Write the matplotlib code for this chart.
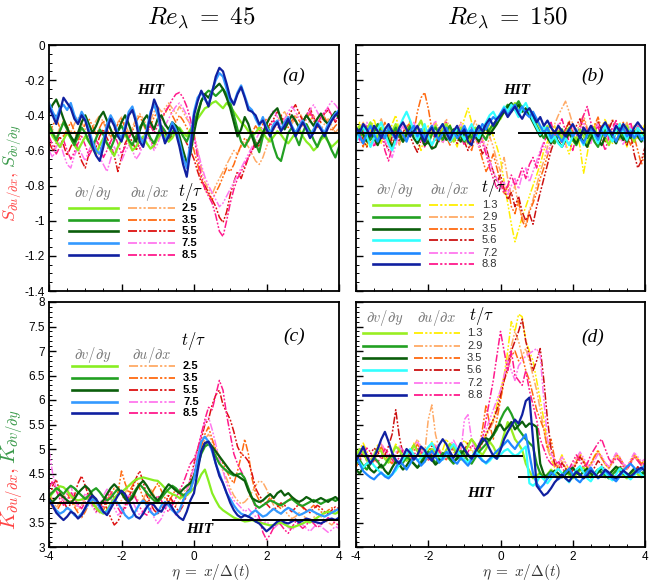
import numpy as np
import matplotlib
matplotlib.use('Agg')
import matplotlib.pyplot as plt
import matplotlib.transforms as mtransforms
from matplotlib.lines import Line2D
from matplotlib.ticker import MultipleLocator, FormatStrFormatter

plt.rcParams['mathtext.fontset'] = 'cm'
plt.rcParams['axes.unicode_minus'] = False
plt.rcParams['font.family'] = ['Liberation Sans', 'DejaVu Sans']

# ------------------------------------------------------------------ data
# all series sampled on eta = -4 .. 4 (values x100)
# panel (a): skewness, Re_lambda = 45
a_times = ['2.5', '3.5', '5.5', '7.5', '8.5']
a_v25 = [-48,-52,-55,-58,-54,-50,-53,-57,-60,-56,
 -52,-55,-59,-62,-57,-53,-56,-60,-63,-58,
 -54,-51,-55,-60,-58,-54,-52,-56,-59,-57,
 -53,-50,-52,-55,-53,-49,-47,-50,-52,-48,
 -45,-42,-39,-36,-35,-33,-32,-34,-36,-33,
 -35,-38,-41,-44,-46,-49,-52,-50,-47,-50,
 -53,-55,-52,-49,-51,-54,-56,-53,-50,-48,
 -52,-55,-57,-60,-58,-54,-52,-55,-58,-56,-54]
a_v35 = [-45,-50,-54,-49,-44,-48,-53,-57,-52,-47,
 -50,-55,-58,-53,-48,-51,-56,-59,-54,-49,
 -46,-50,-54,-57,-52,-47,-44,-48,-53,-56,
 -51,-46,-49,-53,-50,-46,-48,-52,-55,-50,
 -45,-38,-32,-28,-26,-27,-29,-27,-25,-28,
 -33,-40,-48,-55,-58,-54,-50,-56,-61,-52,
 -45,-50,-58,-64,-66,-58,-50,-47,-52,-57,
 -50,-45,-49,-54,-58,-53,-50,-55,-60,-64,-58]
a_v55 = [-38,-34,-31,-36,-42,-47,-52,-55,-50,-44,
 -40,-45,-50,-46,-41,-38,-43,-48,-53,-49,
 -44,-40,-45,-51,-55,-49,-43,-40,-44,-48,
 -42,-40,-45,-48,-44,-46,-52,-60,-67,-62,
 -50,-40,-32,-28,-30,-26,-24,-22,-25,-30,
 -36,-44,-52,-48,-41,-45,-52,-58,-55,-50,
 -45,-41,-38,-36,-42,-48,-44,-40,-43,-47,
 -44,-40,-43,-46,-42,-39,-43,-45,-41,-38,-42]
a_v75 = [-33,-38,-42,-36,-34,-37,-33,-40,-44,-38,
 -42,-48,-55,-60,-62,-55,-45,-40,-44,-50,
 -53,-46,-38,-35,-42,-52,-56,-48,-38,-34,
 -40,-50,-55,-50,-44,-48,-55,-64,-70,-55,
 -38,-30,-27,-31,-34,-26,-20,-16,-18,-25,
 -32,-33,-27,-23,-29,-35,-37,-42,-46,-41,
 -47,-50,-45,-43,-48,-44,-41,-46,-50,-46,
 -43,-47,-51,-48,-44,-47,-50,-45,-42,-39,-37]
a_v85 = [-35,-40,-45,-38,-30,-33,-36,-42,-45,-40,
 -43,-50,-58,-63,-66,-58,-48,-42,-46,-52,
 -55,-48,-40,-37,-44,-55,-58,-50,-40,-31,
 -36,-48,-56,-52,-46,-50,-58,-68,-75,-60,
 -40,-32,-26,-30,-35,-27,-18,-13,-15,-22,
 -30,-34,-28,-24,-30,-37,-38,-40,-45,-43,
 -48,-52,-47,-44,-49,-46,-42,-47,-52,-48,
 -44,-48,-53,-50,-45,-48,-52,-47,-43,-40,-38]
a_u25 = [-45,-48,-52,-47,-43,-46,-50,-45,-41,-44,
 -48,-52,-47,-43,-40,-44,-49,-53,-48,-44,
 -41,-45,-50,-47,-42,-39,-42,-46,-43,-38,
 -35,-38,-36,-33,-36,-39,-35,-38,-42,-45,
 -50,-60,-70,-78,-82,-85,-80,-76,-72,-68,
 -64,-60,-62,-58,-55,-58,-62,-66,-68,-64,
 -58,-52,-47,-43,-40,-38,-42,-45,-41,-38,
 -42,-46,-43,-40,-44,-48,-45,-42,-46,-50,-47]
a_u35 = [-50,-46,-42,-47,-52,-48,-44,-49,-54,-50,
 -45,-42,-46,-51,-47,-43,-48,-52,-49,-45,
 -42,-47,-53,-49,-44,-40,-45,-50,-46,-41,
 -38,-42,-39,-35,-40,-44,-40,-43,-47,-52,
 -60,-68,-76,-82,-85,-88,-84,-80,-75,-70,
 -72,-68,-62,-57,-53,-55,-50,-46,-49,-45,
 -42,-45,-48,-44,-41,-44,-47,-43,-40,-43,
 -46,-42,-39,-43,-47,-44,-41,-45,-49,-46,-44]
a_u55 = [-55,-60,-56,-52,-57,-63,-58,-54,-60,-66,
 -70,-62,-55,-58,-52,-48,-53,-57,-63,-72,
 -64,-56,-52,-55,-60,-56,-52,-49,-54,-58,
 -52,-47,-50,-55,-51,-46,-48,-52,-56,-60,
 -65,-72,-78,-80,-84,-88,-92,-98,-101,-95,
 -85,-78,-72,-76,-70,-64,-60,-55,-58,-52,
 -48,-45,-42,-38,-40,-44,-41,-37,-34,-39,
 -43,-40,-36,-41,-46,-43,-39,-37,-40,-44,-41]
a_u75 = [-60,-64,-58,-55,-62,-68,-70,-63,-58,-62,
 -66,-60,-56,-59,-64,-68,-72,-65,-58,-62,
 -66,-61,-57,-60,-65,-62,-56,-52,-55,-60,
 -56,-50,-46,-42,-38,-35,-33,-36,-40,-46,
 -52,-60,-68,-75,-80,-84,-88,-92,-90,-86,
 -82,-78,-74,-70,-66,-62,-58,-54,-50,-47,
 -44,-40,-37,-41,-45,-42,-38,-35,-38,-42,
 -45,-41,-37,-34,-38,-42,-39,-35,-32,-34,-37]
a_u85 = [-52,-57,-62,-58,-54,-60,-65,-61,-56,-52,
 -57,-63,-59,-54,-58,-64,-60,-55,-51,-56,
 -62,-58,-53,-49,-54,-59,-55,-50,-46,-50,
 -46,-42,-38,-35,-31,-28,-27,-30,-35,-42,
 -52,-64,-74,-82,-86,-90,-97,-106,-109,-100,
 -90,-82,-76,-72,-68,-64,-60,-57,-54,-52,
 -49,-46,-43,-46,-49,-45,-42,-40,-44,-47,
 -43,-40,-38,-42,-45,-41,-38,-36,-40,-43,-40]

# panel (b): skewness, Re_lambda = 150
b_times = ['1.3', '2.9', '3.5', '5.6', '7.2', '8.8']
b_v13 = [-50,-46,-52,-48,-44,-49,-53,-47,-51,-55,
 -49,-45,-50,-54,-48,-46,-51,-47,-43,-49,
 -53,-50,-46,-52,-48,-45,-50,-55,-51,-47,
 -52,-56,-50,-47,-53,-49,-45,-50,-47,-44,
 -42,-38,-40,-36,-33,-37,-35,-39,-36,-40,
 -43,-47,-50,-46,-52,-55,-49,-53,-50,-47,
 -51,-54,-48,-52,-56,-50,-47,-52,-49,-53,
 -57,-51,-48,-53,-50,-46,-51,-55,-49,-52,-50]
b_v29 = [-48,-52,-47,-50,-54,-49,-45,-50,-53,-48,
 -51,-47,-52,-55,-50,-46,-49,-53,-48,-52,
 -56,-51,-47,-50,-54,-49,-46,-51,-48,-52,
 -55,-50,-53,-49,-46,-51,-54,-48,-45,-43,
 -40,-37,-34,-38,-35,-32,-36,-39,-37,-42,
 -46,-50,-53,-49,-52,-56,-51,-48,-53,-50,
 -54,-57,-52,-49,-53,-50,-55,-58,-52,-48,
 -51,-54,-50,-47,-52,-55,-49,-52,-48,-51,-49]
b_v35 = [-52,-48,-51,-55,-50,-53,-57,-52,-49,-54,
 -58,-53,-50,-55,-51,-48,-53,-56,-52,-57,
 -55,-59,-58,-53,-50,-54,-51,-48,-52,-55,
 -50,-53,-49,-52,-55,-50,-47,-51,-48,-45,
 -41,-38,-35,-33,-37,-34,-38,-36,-40,-44,
 -48,-52,-49,-53,-56,-52,-55,-58,-54,-50,
 -53,-56,-52,-55,-58,-53,-50,-54,-57,-52,
 -49,-53,-56,-51,-54,-50,-53,-49,-52,-55,-51]
b_v56 = [-55,-50,-46,-52,-58,-53,-48,-44,-50,-56,
 -60,-54,-47,-42,-38,-43,-49,-54,-50,-45,
 -52,-57,-53,-48,-45,-50,-55,-52,-47,-50,
 -54,-49,-45,-50,-53,-48,-44,-40,-38,-42,
 -39,-35,-38,-34,-37,-41,-36,-33,-38,-43,
 -47,-51,-46,-50,-55,-52,-56,-58,-53,-57,
 -52,-48,-53,-57,-51,-47,-52,-56,-50,-46,
 -51,-55,-49,-45,-50,-54,-48,-52,-47,-51,-55]
b_v72 = [-47,-52,-56,-50,-46,-51,-55,-49,-53,-47,
 -50,-54,-48,-51,-55,-49,-46,-52,-48,-53,
 -49,-46,-51,-54,-50,-47,-52,-49,-53,-50,
 -46,-51,-48,-52,-49,-45,-48,-44,-41,-43,
 -39,-36,-40,-37,-34,-38,-35,-39,-41,-38,
 -42,-46,-50,-47,-53,-49,-52,-55,-51,-48,
 -52,-49,-53,-56,-51,-48,-50,-54,-49,-52,
 -48,-51,-55,-50,-47,-52,-49,-53,-50,-54,-52]
b_v88 = [-47,-50,-45,-48,-52,-46,-49,-53,-48,-45,
 -49,-53,-47,-44,-48,-52,-49,-46,-51,-55,
 -50,-47,-52,-48,-45,-50,-54,-49,-46,-51,
 -48,-55,-57,-50,-46,-49,-45,-42,-46,-42,
 -40,-37,-41,-38,-35,-39,-42,-38,-36,-40,
 -44,-41,-46,-43,-47,-50,-46,-49,-52,-48,
 -45,-49,-53,-47,-50,-46,-49,-52,-47,-44,
 -48,-51,-46,-49,-45,-48,-52,-47,-44,-47,-49]
b_u13 = [-50,-44,-52,-58,-48,-42,-50,-56,-47,-53,
 -45,-40,-49,-55,-50,-43,-47,-54,-60,-52,
 -46,-51,-44,-49,-56,-50,-45,-53,-58,-49,
 -42,-36,-44,-51,-47,-55,-50,-45,-52,-58,
 -65,-78,-90,-102,-112,-105,-98,-92,-86,-80,
 -74,-68,-60,-55,-50,-46,-52,-48,-56,-62,
 -54,-48,-58,-73,-62,-50,-45,-52,-47,-42,
 -50,-56,-48,-44,-52,-58,-50,-46,-53,-49,-45]
b_u29 = [-55,-48,-44,-50,-56,-51,-46,-42,-49,-54,
 -48,-52,-57,-50,-45,-49,-53,-47,-43,-48,
 -54,-49,-45,-51,-47,-42,-48,-53,-49,-44,
 -50,-55,-48,-43,-49,-54,-60,-52,-58,-66,
 -72,-64,-76,-86,-80,-92,-98,-102,-94,-88,
 -80,-72,-66,-58,-52,-45,-40,-36,-32,-38,
 -45,-50,-44,-40,-47,-53,-48,-43,-50,-55,
 -47,-42,-49,-54,-48,-44,-51,-56,-50,-46,-52]
b_u35 = [-48,-53,-58,-50,-45,-52,-57,-49,-44,-51,
 -56,-50,-46,-53,-48,-43,-50,-38,-30,-27,
 -36,-48,-55,-50,-45,-52,-57,-51,-46,-53,
 -49,-55,-60,-52,-58,-65,-72,-68,-62,-70,
 -78,-85,-80,-92,-96,-88,-100,-104,-95,-90,
 -84,-76,-70,-63,-56,-50,-46,-52,-48,-43,
 -50,-55,-47,-42,-49,-54,-46,-41,-48,-53,
 -45,-50,-55,-48,-44,-51,-57,-52,-60,-68,-62]
b_u56 = [-52,-47,-54,-58,-50,-46,-53,-49,-55,-60,
 -52,-48,-55,-50,-46,-52,-57,-61,-54,-49,
 -53,-58,-51,-47,-54,-50,-46,-52,-56,-50,
 -55,-60,-53,-49,-56,-62,-58,-66,-72,-78,
 -74,-82,-88,-84,-92,-86,-95,-100,-96,-102,
 -92,-84,-76,-68,-60,-54,-50,-56,-48,-44,
 -51,-46,-42,-48,-53,-47,-50,-44,-49,-55,
 -48,-43,-50,-46,-52,-57,-50,-62,-70,-66,-58]
b_u72 = [-50,-55,-48,-44,-51,-57,-52,-47,-54,-60,
 -64,-57,-50,-46,-53,-49,-44,-50,-55,-49,
 -53,-47,-43,-50,-56,-51,-47,-54,-50,-45,
 -51,-56,-49,-53,-58,-52,-60,-66,-72,-76,
 -82,-78,-85,-80,-76,-82,-74,-70,-78,-72,
 -66,-60,-55,-62,-56,-50,-45,-52,-58,-51,
 -46,-53,-48,-44,-50,-56,-49,-45,-52,-47,
 -54,-49,-44,-51,-57,-50,-46,-53,-48,-52,-56]
b_u88 = [-48,-54,-50,-46,-52,-58,-53,-49,-60,-66,
 -58,-52,-48,-55,-50,-45,-51,-47,-53,-58,
 -51,-46,-50,-55,-49,-44,-50,-54,-48,-52,
 -57,-50,-46,-53,-49,-56,-62,-70,-76,-82,
 -78,-84,-80,-74,-80,-76,-70,-76,-68,-64,
 -70,-62,-56,-50,-44,-52,-47,-42,-49,-55,
 -60,-52,-46,-40,-35,-44,-50,-46,-54,-60,
 -52,-47,-43,-50,-55,-48,-44,-51,-46,-50,-53]

# panel (c): flatness, Re_lambda = 45
c_v25 = [400,410,418,424,422,415,405,398,395,397,
 400,398,390,380,372,368,375,388,400,408,
 412,418,425,432,438,440,442,440,438,436,
 435,428,420,412,408,405,400,402,406,412,
 420,432,448,458,435,410,395,382,375,370,
 365,360,357,355,352,353,355,352,350,348,
 346,344,345,348,350,346,342,340,342,345,
 348,352,350,355,360,365,370,372,370,368,372]
c_v35 = [405,412,420,415,408,418,425,420,412,405,
 398,405,415,420,412,402,395,400,410,418,
 412,402,395,405,418,428,420,410,402,395,
 392,400,410,418,425,420,412,405,410,420,
 440,465,490,505,510,500,485,470,462,455,
 450,446,448,450,440,420,400,385,380,385,
 390,395,392,388,385,390,395,398,392,386,
 384,388,392,396,392,388,392,396,398,394,398]
c_v55 = [398,392,400,408,402,395,390,398,410,418,
 425,418,405,395,388,395,408,420,428,420,
 410,398,392,400,415,428,435,425,412,402,
 395,405,418,428,422,415,410,418,425,430,
 445,470,495,512,515,505,495,485,475,465,
 455,448,445,440,435,415,400,395,392,395,
 402,408,400,410,415,405,410,402,396,392,
 396,402,398,392,396,400,396,392,398,402,396]
c_v75 = [395,385,375,368,372,380,375,365,360,368,
 378,390,398,392,380,370,372,385,395,390,
 378,365,358,362,375,388,395,385,372,365,
 370,385,392,385,375,368,375,395,410,415,
 440,480,515,525,515,495,470,450,430,410,
 398,385,375,368,365,362,370,375,368,362,
 365,372,378,372,368,375,380,376,370,365,
 368,372,376,372,368,365,362,366,370,374,378]
c_v85 = [395,385,370,362,355,362,372,368,358,365,
 380,395,405,398,385,372,365,378,392,405,
 415,408,392,375,362,358,368,382,390,385,
 375,372,385,392,380,368,360,355,372,395,
 410,455,495,512,515,500,470,445,430,410,
 390,375,365,360,365,362,358,352,348,340,
 332,338,345,352,355,350,348,352,356,350,
 354,358,356,352,350,348,352,356,358,355,360]
c_u25 = [410,395,380,392,405,418,402,388,375,385,
 400,412,398,385,372,380,395,410,402,388,
 395,410,425,415,402,390,398,412,420,405,
 390,398,410,402,392,385,395,410,420,430,
 445,470,500,520,530,515,495,475,455,440,
 420,405,395,388,392,400,412,425,435,432,
 418,400,385,372,368,375,365,358,362,370,
 365,358,352,360,368,362,355,350,345,352,358]
c_u35 = [395,380,372,385,398,410,395,382,370,360,
 372,388,402,395,382,375,390,408,420,410,
 455,430,410,425,440,420,400,390,405,418,
 430,415,400,392,405,418,410,395,402,420,
 450,480,505,530,545,520,500,485,470,455,
 440,430,455,485,520,490,440,410,395,385,
 390,402,395,385,378,388,395,402,396,388,
 380,372,378,385,380,372,368,375,380,375,370]
c_u55 = [390,425,438,412,395,378,388,405,430,445,
 425,402,385,372,380,395,378,360,345,352,
 368,385,402,418,440,455,432,405,388,375,
 368,375,390,405,395,380,372,385,410,440,
 470,500,520,550,560,590,610,620,590,575,
 560,535,505,490,485,475,450,420,405,395,
 388,380,375,382,390,385,378,372,380,388,
 382,375,370,378,385,380,372,368,375,382,378]
c_u75 = [498,450,420,405,395,410,425,400,380,392,
 410,398,382,370,385,405,418,400,380,365,
 372,390,408,395,378,365,372,388,378,360,
 348,358,375,392,380,365,372,390,415,440,
 462,495,530,555,565,540,510,480,455,430,
 410,395,388,380,372,378,370,362,355,348,
 352,345,338,345,352,348,340,335,342,350,
 345,338,332,340,348,342,336,330,335,342,338]
c_u85 = [420,435,415,398,385,395,412,400,388,378,
 392,408,395,382,370,385,402,415,398,380,
 368,378,395,410,398,382,370,365,378,392,
 405,395,380,372,385,400,415,430,450,470,
 480,500,530,560,585,580,610,640,620,570,
 530,490,470,455,440,420,400,380,360,330,
 315,325,340,352,345,335,328,340,352,345,
 338,345,355,348,340,345,352,360,355,348,345]

# panel (d): flatness, Re_lambda = 150
d_v13 = [485,500,492,478,470,488,502,495,480,472,
 490,505,498,484,476,492,508,496,482,474,
 488,500,494,480,486,498,510,502,488,478,
 492,506,520,510,495,488,500,515,505,490,
 505,530,555,540,520,510,498,470,455,440,
 445,452,440,448,458,450,442,448,455,446,
 440,448,456,462,452,444,450,458,450,442,
 448,455,462,454,446,440,448,456,448,442,450]
d_v29 = [470,478,465,458,470,482,475,462,468,480,
 488,475,466,472,484,478,470,462,474,486,
 495,482,472,480,492,488,478,470,484,496,
 488,476,470,482,494,502,510,520,528,540,
 560,575,585,572,555,540,530,520,512,505,
 470,450,440,448,455,446,440,448,456,450,
 444,452,460,454,446,442,450,458,452,446,
 440,448,456,462,456,448,444,452,458,450,455]
d_v35 = [458,450,462,470,458,452,460,468,456,448,
 462,474,468,458,466,478,470,462,470,482,
 490,478,468,475,486,492,482,474,480,490,
 498,488,480,492,505,515,522,518,530,545,
 550,538,545,555,540,548,556,545,552,550,
 545,470,448,440,448,456,450,442,448,456,
 462,452,446,454,460,450,444,452,460,454,
 448,456,464,458,450,444,452,460,456,448,452]
d_v56 = [480,472,462,470,476,466,458,450,446,444,
 448,456,468,478,490,500,488,476,482,494,
 504,512,498,486,478,488,500,510,498,486,
 478,472,482,496,488,478,470,476,485,480,
 488,496,500,492,486,490,498,505,430,425,
 432,445,438,430,440,452,460,450,440,432,
 445,458,465,452,440,434,446,458,464,452,
 442,436,448,460,452,444,438,446,456,448,442]
d_v72 = [490,470,455,448,442,438,446,452,444,440,
 448,462,475,468,458,470,484,478,466,474,
 488,496,484,472,480,494,488,476,470,482,
 474,466,478,490,484,476,472,480,488,496,
 502,510,518,508,500,512,520,530,490,450,
 430,420,428,440,452,446,438,444,452,460,
 448,438,432,442,454,462,450,440,446,456,
 448,440,434,444,456,464,470,462,452,458,468]
d_v88 = [475,490,505,485,470,482,500,520,535,515,
 492,478,470,485,500,492,478,488,505,498,
 484,476,490,508,520,510,494,482,496,512,
 500,488,480,494,508,522,516,500,486,480,
 498,520,535,548,560,552,570,598,605,520,
 425,415,405,410,420,432,440,448,440,434,
 444,454,448,440,446,456,450,442,448,458,
 452,444,440,448,456,450,444,450,458,462,455]
d_u13 = [480,500,512,495,478,490,508,498,482,475,
 492,510,500,485,478,494,512,504,488,480,
 496,515,505,490,498,520,508,494,486,502,
 518,508,495,488,500,515,530,545,560,590,
 620,650,700,760,740,775,770,720,700,680,
 640,600,560,510,480,462,470,488,472,458,
 465,480,492,476,462,470,486,498,482,468,
 460,474,490,482,468,462,476,490,480,470,478]
d_u29 = [470,485,500,488,474,482,498,510,495,480,
 472,488,502,494,480,488,505,520,504,490,
 560,590,530,500,488,498,512,502,488,480,
 494,508,500,488,496,512,526,540,555,575,
 600,640,680,710,740,720,690,705,680,650,
 620,580,540,500,480,470,465,478,462,450,
 458,472,486,474,460,468,482,494,480,468,
 460,472,486,478,466,458,470,484,476,466,474]
d_u35 = [462,478,494,480,468,476,490,504,490,476,
 470,486,498,488,476,484,496,510,498,484,
 478,492,506,496,484,478,490,504,498,486,
 494,508,520,510,500,540,590,550,520,560,
 600,640,660,690,700,680,690,660,640,610,
 580,560,540,500,520,480,458,470,462,452,
 460,474,488,476,462,470,484,496,482,470,
 462,476,490,482,470,462,474,488,480,470,476]
d_u56 = [478,492,488,476,490,502,494,480,486,506,
 530,580,525,490,480,494,508,498,486,478,
 492,506,498,486,480,494,508,500,488,484,
 498,512,520,508,500,514,530,545,560,580,
 610,640,670,700,720,740,765,720,690,660,
 680,705,640,560,500,470,458,472,460,448,
 456,470,484,472,458,450,462,476,468,456,
 448,440,452,466,458,446,440,452,464,456,448]
d_u72 = [472,488,500,490,478,486,500,512,498,484,
 478,492,506,496,484,490,504,516,502,488,
 480,494,508,498,486,492,506,518,504,490,
 560,570,520,500,512,524,540,560,580,600,
 620,650,680,660,640,670,680,690,695,700,
 705,690,600,520,490,478,470,484,472,460,
 466,480,494,482,468,462,476,490,486,472,
 464,478,492,484,470,464,478,492,484,474,480]
d_u88 = [490,475,488,502,494,480,472,486,500,492,
 478,470,484,498,490,478,486,502,494,482,
 476,490,504,496,484,478,492,506,498,486,
 480,494,508,500,490,520,560,600,640,690,
 740,700,660,700,650,640,630,660,620,590,
 560,520,500,480,470,464,476,462,452,460,
 474,488,476,462,470,488,500,512,520,500,
 480,470,482,476,464,458,470,484,476,466,472]

# HIT reference levels: (level, eta_start, eta_end)
hit_a = [(-0.50, -4.0, 0.36), (-0.50, 0.72, 4.0)]
hit_b = [(-0.50, -4.0, -0.18), (-0.50, 0.51, 4.0)]
hit_c = [(3.89, -4.0, 0.39), (3.55, 0.52, 4.0)]
hit_d = [(4.86, -4.0, 0.60), (4.43, 0.51, 4.0)]

# ------------------------------------------------------------------ styles
col_a_v = ['#88ee22', '#22a022', '#0b5e0b', '#3399ff', '#1020a0']
col_a_u = ['#ffaa66', '#ff6a10', '#dd1111', '#ff77ee', '#ff1a8c']
col_b_v = ['#99ee22', '#22a022', '#0b5e0b', '#33ffff', '#1e88ff', '#1020a0']
col_b_u = ['#ffee00', '#ffaa66', '#ff6a10', '#cc1111', '#ff77ee', '#ff1a8c']
DASH = (0, (5, 1.2, 1.2, 1.2, 1.2, 1.2))
LW_V, LW_U = 1.6, 1.1

W, H = 649, 582
fig = plt.figure(figsize=(W / 100, H / 100), dpi=100)
pix = mtransforms.Affine2D().scale(1 / W, -1 / H).translate(0, 1) + fig.transFigure


def add_ax(l, t, r, b):
    return fig.add_axes([l / W, 1 - b / H, (r - l) / W, (b - t) / H])


ax_a = add_ax(49, 45, 339, 291)
ax_b = add_ax(356, 45, 645, 291)
ax_c = add_ax(49, 302, 339, 547)
ax_d = add_ax(356, 302, 645, 547)


def draw(ax, vs, us, cv, cu, hit):
    for arr, c in zip(us, cu):
        y = np.array(arr) / 100.0
        ax.plot(np.linspace(-4, 4, len(y)), y, color=c, lw=LW_U, ls=DASH)
    for arr, c in zip(vs, cv):
        y = np.array(arr) / 100.0
        ax.plot(np.linspace(-4, 4, len(y)), y, color=c, lw=LW_V)
    for lev, x0, x1 in hit:
        ax.plot([x0, x1], [lev, lev], color='black', lw=1.4)


draw(ax_a, [a_v25, a_v35, a_v55, a_v75, a_v85], [a_u25, a_u35, a_u55, a_u75, a_u85],
     col_a_v, col_a_u, hit_a)
draw(ax_b, [b_v13, b_v29, b_v35, b_v56, b_v72, b_v88], [b_u13, b_u29, b_u35, b_u56, b_u72, b_u88],
     col_b_v, col_b_u, hit_b)
draw(ax_c, [c_v25, c_v35, c_v55, c_v75, c_v85], [c_u25, c_u35, c_u55, c_u75, c_u85],
     col_a_v, col_a_u, hit_c)
draw(ax_d, [d_v13, d_v29, d_v35, d_v56, d_v72, d_v88], [d_u13, d_u29, d_u35, d_u56, d_u72, d_u88],
     col_b_v, col_b_u, hit_d)

for ax in (ax_a, ax_b):
    ax.set_ylim(-1.4, 0)
    ax.yaxis.set_major_locator(MultipleLocator(0.2))
    ax.yaxis.set_minor_locator(MultipleLocator(0.05))
for ax in (ax_c, ax_d):
    ax.set_ylim(3, 8)
    ax.yaxis.set_major_locator(MultipleLocator(0.5))
    ax.yaxis.set_minor_locator(MultipleLocator(0.1))
for ax in (ax_a, ax_b, ax_c, ax_d):
    ax.set_xlim(-4, 4)
    ax.xaxis.set_major_locator(MultipleLocator(2))
    ax.xaxis.set_minor_locator(MultipleLocator(0.5))
    ax.yaxis.set_major_formatter(FormatStrFormatter('%g'))
    ax.xaxis.set_major_formatter(FormatStrFormatter('%g'))
    ax.tick_params(which='both', direction='in', top=False, right=False, labelsize=8.5, pad=3)
    ax.tick_params(which='major', length=5, width=1.0)
    ax.tick_params(which='minor', length=2.5, width=0.7)
    for s in ax.spines.values():
        s.set_linewidth(1.3)
ax_a.tick_params(labelbottom=False)
ax_b.tick_params(labelbottom=False, labelleft=False)
ax_d.tick_params(labelleft=False)

# annotations in data coordinates
hit_font = dict(family='Liberation Serif', style='italic', weight='bold', fontsize=11)
lab_font = dict(family='Liberation Serif', style='italic', fontsize=14)
ax_a.text(-1.2, -0.26, 'HIT', ha='center', va='center', **hit_font)
ax_b.text(0.46, -0.26, 'HIT', ha='center', va='center', **hit_font)
ax_c.text(0.17, 3.35, 'HIT', ha='center', va='center', **hit_font)
ax_d.text(-0.54, 4.10, 'HIT', ha='center', va='center', **hit_font)
ax_a.text(2.76, -0.18, '(a)', ha='center', va='center', **lab_font)
ax_b.text(2.56, -0.18, '(b)', ha='center', va='center', **lab_font)
ax_c.text(2.76, 7.29, '(c)', ha='center', va='center', **lab_font)
ax_d.text(2.56, 7.27, '(d)', ha='center', va='center', **lab_font)


def legend(rows, xs, xu, xn, labels, cv, cu, hy, hxv, hxu, txy, bold):
    for y, lab, c1, c2 in zip(rows, labels, cv, cu):
        fig.add_artist(Line2D(xs, [y, y], transform=pix, color=c1, lw=LW_V + 0.3))
        fig.add_artist(Line2D(xu, [y, y], transform=pix, color=c2, lw=LW_U + 0.2, ls=DASH))
        fig.text(xn, y, lab, transform=pix, ha='left', va='center', fontsize=8,
                 weight='bold' if bold else 'normal', color='black' if bold else '#333333')
    fig.text(hxv, hy, r'$\partial v/\partial y$', transform=pix, ha='center', va='center',
             fontsize=10.5, color='#777777')
    fig.text(hxu, hy, r'$\partial u/\partial x$', transform=pix, ha='center', va='center',
             fontsize=10.5, color='#777777')
    fig.text(txy[0], txy[1], r'$t/\tau$', transform=pix, ha='center', va='center', fontsize=12)


legend([208, 220, 231, 243, 255], [69, 118], [128, 175], 182, a_times, col_a_v, col_a_u,
       193, 93, 150, (190, 192), True)
legend([366, 378, 390, 402, 413], [72, 117], [129, 175], 183, a_times, col_a_v, col_a_u,
       355, 93, 152, (193, 341), True)
legend([205, 217, 229, 240, 253, 264], [373, 419], [429, 474], 482, b_times, col_b_v, col_b_u,
       190, 395, 450, (493, 188), False)
legend([333, 346, 358, 370, 383, 395], [363, 406], [414, 460], 467, b_times, col_b_v, col_b_u,
       318, 385, 437, (481, 316), False)

# titles
fig.text(201, 18, r'$Re_\lambda\;=\;45$', transform=pix, ha='center', va='center', fontsize=18)
fig.text(508, 18, r'$Re_\lambda\;=\;150$', transform=pix, ha='center', va='center', fontsize=18)

# x labels
fig.text(211, 572, r'$\eta\;=\;x/\Delta(t)$', transform=pix, ha='center', va='center',
         fontsize=11, color='#333333')
fig.text(522, 572, r'$\eta\;=\;x/\Delta(t)$', transform=pix, ha='center', va='center',
         fontsize=11, color='#333333')

# two-coloured y labels (red part first, green part continues after it)
RED, GRN = '#ff4444', '#3a9a4a'
renderer = fig.canvas.get_renderer()


def ylab(x, ybottom, s_red, s_green, size):
    t1 = fig.text(x, ybottom, s_red, transform=pix, rotation=90, rotation_mode='anchor',
                  ha='left', va='center', fontsize=size, color=RED)
    bb = t1.get_window_extent(renderer)
    ytop = H - bb.y1 - 3
    fig.text(x, ytop, s_green, transform=pix, rotation=90, rotation_mode='anchor',
             ha='left', va='center', fontsize=size, color=GRN)


ylab(12, 222, r'$S_{\partial u/\partial x},$', r'$S_{\partial v/\partial y}$', 13)
ylab(13, 530, r'$K_{\partial u/\partial x},$', r'$K_{\partial v/\partial y}$', 15)

fig.savefig('out.png', dpi=100)
